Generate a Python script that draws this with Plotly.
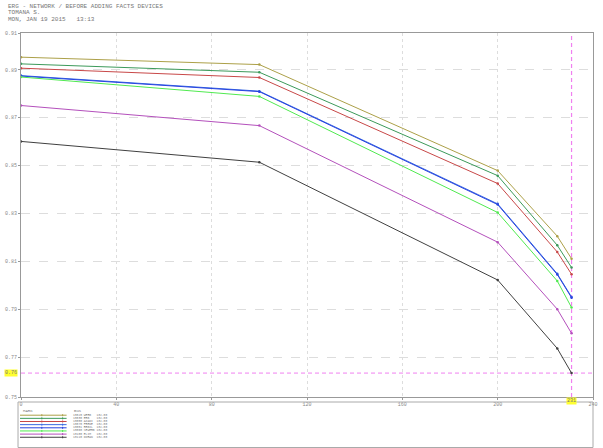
import plotly.graph_objects as go

# ---------------- data ----------------
transfer_mw = [0, 100, 200, 225, 231]

bus_names = ["13020 WERB", "13030 ERB", "13050 AZADI", "13070 FREDE",
             "13051 RRBIL", "13060 SEWERB", "13100 ELIM", "13110 DORAN"]
bus_kv = ["132.00"] * 8

v_werb   = [0.8953, 0.8922, 0.8479, 0.8205, 0.8111]
v_erb    = [0.8925, 0.8890, 0.8458, 0.8167, 0.8074]
v_azadi  = [0.8907, 0.8868, 0.8425, 0.8139, 0.8046]
v_frede  = [0.8876, 0.8811, 0.8340, 0.8048, 0.7951]
v_rrbil  = [0.8874, 0.8809, 0.8337, 0.8045, 0.7948]
v_sewerb = [0.8870, 0.8789, 0.8304, 0.8018, 0.7907]
v_elim   = [0.8751, 0.8667, 0.8180, 0.7900, 0.7799]
v_doran  = [0.8601, 0.8514, 0.8022, 0.7736, 0.7633]

series = [v_werb, v_erb, v_azadi, v_frede, v_rrbil, v_sewerb, v_elim, v_doran]
colors = ["#aca048", "#3c9a5a", "#c84848", "#3a6ae0", "#2844e0",
          "#50ea50", "#b450bc", "#404040"]
widths = [1, 1, 1, 1, 1, 1, 1, 1]

x_ticks = [0, 40, 80, 120, 160, 200, 240]
y_min, y_max = 0.7533, 0.9054
y_ticks = [0.77, 0.79, 0.81, 0.83, 0.85, 0.87, 0.89]

title_lines = ["ERG - NETWORK / BEFORE ADDING FACTS DEVICES",
               "TOMANA S.",
               "MON, JAN 19 2015   13:13"]

# ---------------- figure ----------------
W, H = 603, 448
L, R, T, B = 21, 5, 33, 51
PW, PH = W - L - R, H - T - B

def px2x(px):
    return (px - L) / PW

def py2y(py):
    return (H - B - py) / PH

MONO = "Liberation Mono, DejaVu Sans Mono, monospace"
CURSOR = "#f080f0"

cursor_x = transfer_mw[-1]
cursor_y = min(min(s) for s in series)

fig = go.Figure()
# cursor cross-hair (drawn first so curves sit on top)
fig.add_trace(go.Scatter(x=[cursor_x, cursor_x], y=[y_min, y_max], mode="lines",
                         line=dict(color=CURSOR, width=1.2, dash="4px,3px"),
                         showlegend=False, hoverinfo="skip"))
fig.add_trace(go.Scatter(x=[0, 240], y=[cursor_y, cursor_y], mode="lines",
                         line=dict(color=CURSOR, width=1, dash="4px,3px"),
                         showlegend=False, hoverinfo="skip"))
for name, vals, c, w in zip(bus_names, series, colors, widths):
    fig.add_trace(go.Scatter(
        x=transfer_mw, y=vals, mode="lines+markers", name=name,
        line=dict(color=c, width=w),
        marker=dict(size=2.5, color=c), showlegend=False))

shapes = [
    # legend box
    dict(type="rect", xref="paper", yref="paper",
         x0=px2x(18), x1=px2x(598), y0=py2y(447.5), y1=py2y(402),
         line=dict(color="#aaaaaa", width=1), fillcolor="rgba(0,0,0,0)"),
]

annotations = []
for i, line in enumerate(title_lines):
    annotations.append(dict(
        xref="paper", yref="paper", x=px2x(6), y=py2y(6 + 6.6 * i),
        text=line, showarrow=False, xanchor="left", yanchor="middle",
        font=dict(family=MONO, size=6, color="#777777")))

# cursor labels
annotations.append(dict(xref="x", yref="paper", x=cursor_x, y=py2y(401),
                        text=str(cursor_x), showarrow=False, bgcolor="#ffff30",
                        font=dict(family=MONO, size=5, color="#777777"),
                        xanchor="center", yanchor="middle", borderpad=0))
annotations.append(dict(xref="paper", yref="y", x=px2x(18), y=cursor_y,
                        text=f"{cursor_y:.2f}", showarrow=False, bgcolor="#ffff30",
                        font=dict(family=MONO, size=5, color="#777777"),
                        xanchor="right", yanchor="middle", borderpad=0))

# legend (drawn manually, PSS/E style)
annotations.append(dict(xref="paper", yref="paper", x=px2x(21), y=py2y(411.0),
                        text="MARK", showarrow=False, xanchor="left", yanchor="middle",
                        font=dict(family=MONO, size=4, color="#777777")))
annotations.append(dict(xref="paper", yref="paper", x=px2x(72), y=py2y(411.0),
                        text="Bus", showarrow=False, xanchor="left", yanchor="middle",
                        font=dict(family=MONO, size=4, color="#777777")))
for i, (name, kv, c) in enumerate(zip(bus_names, bus_kv, colors)):
    ry = 415.2 + 3.15 * i
    shapes.append(dict(type="line", xref="paper", yref="paper",
                       x0=px2x(20), x1=px2x(67), y0=py2y(ry), y1=py2y(ry),
                       line=dict(color=c, width=1)))
    for mx in (42, 63):
        shapes.append(dict(type="line", xref="paper", yref="paper",
                           x0=px2x(mx), x1=px2x(mx), y0=py2y(ry - 1), y1=py2y(ry + 1),
                           line=dict(color=c, width=1)))
    annotations.append(dict(xref="paper", yref="paper", x=px2x(72), y=py2y(ry),
                            text=f"{name:<13}{kv}", showarrow=False,
                            xanchor="left", yanchor="middle", borderpad=0,
                            font=dict(family=MONO, size=3.0, color="#777777")))

y_tickvals = [y_min] + y_ticks + [y_max]
y_ticktext = [f"{v:.2f}" for v in y_tickvals]

fig.update_layout(
    width=W, height=H,
    margin=dict(l=L, r=R, t=T, b=B, pad=0),
    paper_bgcolor="white", plot_bgcolor="white",
    shapes=shapes, annotations=annotations,
    xaxis=dict(range=[0, 240], tickvals=x_ticks, ticktext=[str(v) for v in x_ticks],
               showgrid=True, gridcolor="#dddddd", griddash="dot", gridwidth=1,
               showline=True, linecolor="#999999", linewidth=1, mirror=True,
               ticks="outside", ticklen=2, tickcolor="#999999",
               tickfont=dict(family=MONO, size=5, color="#888888"),
               zeroline=False),
    yaxis=dict(range=[y_min, y_max], tickvals=y_tickvals, ticktext=y_ticktext,
               showgrid=True, gridcolor="#dddddd", griddash="dash", gridwidth=1,
               showline=True, linecolor="#999999", linewidth=1, mirror=True,
               ticks="outside", ticklen=2, tickcolor="#999999",
               tickfont=dict(family=MONO, size=5, color="#888888"),
               zeroline=False),
)

fig.write_html("out.html")
